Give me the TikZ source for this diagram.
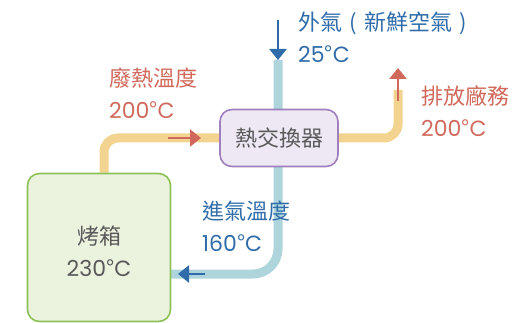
\documentclass[tikz,border=0pt]{standalone}
\usepackage{fontspec}
\setmainfont{Noto Sans CJK TC}
\newfontfamily\popfont{Poppins}
\usepackage{xcolor}
\usetikzlibrary{arrows.meta,backgrounds}

\definecolor{pipeyellow}{HTML}{F2D38F}
\definecolor{pipeblue}{HTML}{AED5DC}
\definecolor{hotred}{HTML}{D0695B}
\definecolor{coldblue}{HTML}{2F6CA9}
\definecolor{textgray}{HTML}{595959}
\definecolor{ovenfill}{HTML}{EBF2DE}
\definecolor{ovenline}{HTML}{8DC156}
\definecolor{hxfill}{HTML}{EEE8F4}
\definecolor{hxline}{HTML}{A07FBE}

\newcommand\degc[1]{{\popfont #1}°{\popfont C}}
\newcommand\wparen[1]{\makebox[1em]{#1}}

\begin{document}
\begin{tikzpicture}[x=1pt,y=-1pt,>={Triangle[length=11pt,width=17pt]},
  font=\fontsize{22}{32}\selectfont,
  pipe/.style={line width=9pt,draw=#1},
  flowarrow/.style={->,line width=2.6pt,draw=#1,fill=#1},
  label/.style={anchor=west,align=left,inner sep=0pt,text=#1}]
\useasboundingbox (0,0) rectangle (530,323);
\clip (0,0) rectangle (530,323);

\node[rounded corners=12pt,minimum width=143pt,minimum height=148pt,line width=1.6pt,draw=ovenline,fill=ovenfill] (oven) at (99,247.5) {};
\node[text=textgray,align=center,inner sep=0pt,yshift=-4pt] (ovenlabel) at (oven.center) {烤箱\\\degc{230}};
\node[rounded corners=12pt,minimum width=118pt,minimum height=57pt,line width=1.6pt,draw=hxline,fill=hxfill,text=textgray] (hx) at (279,138) {熱交換器};

\coordinate (air) at (278,60);
\coordinate (inlet) at (170,274);
\coordinate (exhaust) at (398,90);

\begin{pgfonlayer}{background}
\draw[pipe=pipeyellow,rounded corners=14pt] ([xshift=5pt]oven.north) |- (hx.west);
\draw[pipe=pipeyellow,rounded corners=14pt] (hx.east) -| (exhaust);
\draw[pipe=pipeblue,rounded corners=25pt] (air) |- (inlet);
\end{pgfonlayer}

% flow arrows
\coordinate (air-a) at (278,20);
\coordinate (in-a) at (205,274);
\coordinate (in-b) at (178,274);
\coordinate (heat-a) at (168,138);
\coordinate (heat-b) at (201,138);
\coordinate (ex-a) at (398,101);
\coordinate (ex-b) at (398,68);
\draw[flowarrow=coldblue] (air-a) -- (air);
\draw[flowarrow=coldblue] (in-a) -- (in-b);
\draw[flowarrow=hotred] (heat-a) -- (heat-b);
\draw[flowarrow=hotred] (ex-a) -- (ex-b);

% labels
\node[label=hotred] (heatlabel) at (109,93) {廢熱溫度\\\degc{200}};
\node[label=coldblue] (airlabel) at (298,37) {外氣\wparen{(}新鮮空氣\wparen{)}\\\degc{25}};
\node[label=hotred] (exlabel) at (421,111) {排放廠務\\\degc{200}};
\node[label=coldblue] (inlabel) at (202,226) {進氣溫度\\\degc{160}};
\end{tikzpicture}
\end{document}
